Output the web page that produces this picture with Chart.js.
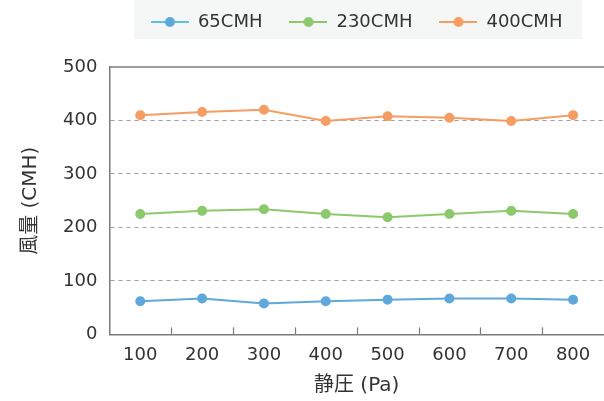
<!DOCTYPE html>
<html>
<head>
<meta charset="utf-8">
<script src="https://cdn.jsdelivr.net/npm/chart.js@4/dist/chart.umd.min.js"></script>
<style>
  html, body { margin: 0; padding: 0; background: #ffffff; }
  #wrap { width: 604px; height: 401px; position: relative; }
</style>
</head>
<body>
<div id="wrap"><canvas id="c" width="604" height="401"></canvas></div>
<script>
// Static pressure steps (Pa)
const pressures = ['100', '200', '300', '400', '500', '600', '700', '800'];
// Measured airflow (CMH) at each pressure step, per fan setting
const flow65 = [62, 67, 58, 62, 65, 67, 67, 65];
const flow230 = [225, 231, 234, 225, 219, 225, 231, 225];
const flow400 = [410, 416, 420, 399, 408, 405, 399, 410];
const seriesNames = ['65CMH', '230CMH', '400CMH'];
const yTicks = [0, 100, 200, 300, 400, 500];

const FONT = "'DejaVu Sans', 'Noto Sans CJK JP', sans-serif";
const TEXT = '#333333';
const AXIS = '#7a7a7a';

const palette = [
  { line: '#5fa8dc', point: '#5fa8dc', legendLine: '#5cc3d9' },
  { line: '#8cc96c', point: '#8cc96c', legendLine: '#8cc96c' },
  { line: '#f59d62', point: '#f59d62', legendLine: '#f59d62' }
];

// Legend marker: short line with a dot in the middle
function legendMarker(lineColor, dotColor) {
  const cv = document.createElement('canvas');
  cv.width = 38; cv.height = 12;
  const g = cv.getContext('2d');
  g.strokeStyle = lineColor; g.lineWidth = 2;
  g.beginPath(); g.moveTo(0, 6); g.lineTo(38, 6); g.stroke();
  g.fillStyle = dotColor;
  g.beginPath(); g.arc(19, 6, 5, 0, Math.PI * 2); g.fill();
  return cv;
}

const datasets = [flow65, flow230, flow400].map((vals, i) => ({
  label: seriesNames[i],
  data: vals,
  borderColor: palette[i].line,
  backgroundColor: palette[i].point,
  pointBackgroundColor: palette[i].point,
  pointBorderColor: palette[i].point,
  pointRadius: 4,
  pointHoverRadius: 4,
  borderWidth: 2,
  tension: 0,
  fill: false
}));

const frame = {
  id: 'frame',
  beforeInit(chart) {
    const fit = chart.legend.fit;
    chart.legend.fit = function () { fit.call(this); this.height += 26; };
  },
  beforeDraw(chart) {
    const lg = chart.legend;
    if (!lg || !lg.legendHitBoxes || !lg.legendHitBoxes.length) return;
    const boxes = lg.legendHitBoxes;
    const first = boxes[0], last = boxes[boxes.length - 1];
    const ctx = chart.ctx;
    ctx.save();
    ctx.fillStyle = '#f5f6f6';
    ctx.fillRect(first.left - 17, 0, (last.left + last.width) - first.left + 37, 39);
    ctx.restore();
  },
  afterDraw(chart) {
    const { ctx, chartArea } = chart;
    const xs = chart.scales.x;
    ctx.save();
    ctx.strokeStyle = AXIS;
    ctx.lineWidth = 1.5;
    // top frame line
    ctx.beginPath();
    ctx.moveTo(chartArea.left, chartArea.top);
    ctx.lineTo(chartArea.right, chartArea.top);
    ctx.stroke();
    // inward tick marks between categories
    ctx.lineWidth = 1.2;
    for (let i = 1; i < pressures.length; i++) {
      const x = Math.round((xs.getPixelForValue(i - 1) + xs.getPixelForValue(i)) / 2) + 0.5;
      ctx.beginPath();
      ctx.moveTo(x, chartArea.bottom);
      ctx.lineTo(x, chartArea.bottom - 7);
      ctx.stroke();
    }
    ctx.restore();
  }
};

new Chart(document.getElementById('c'), {
  type: 'line',
  data: { labels: pressures, datasets },
  options: {
    responsive: false,
    animation: false,
    layout: { autoPadding: false, padding: { left: 19, right: 0, top: -14, bottom: 3 } },
    plugins: {
      tooltip: { enabled: false },
      legend: {
        position: 'top',
        fullSize: false,
        labels: {
          usePointStyle: true,
          pointStyleWidth: 38,
          padding: 27,
          color: TEXT,
          font: { family: FONT, size: 18 },
          generateLabels(chart) {
            return chart.data.datasets.map((ds, i) => ({
              text: ds.label,
              pointStyle: legendMarker(palette[i].legendLine, palette[i].point),
              fillStyle: palette[i].point,
              strokeStyle: 'transparent',
              lineWidth: 0,
              fontColor: TEXT,
              hidden: false,
              datasetIndex: i
            }));
          }
        }
      }
    },
    scales: {
      x: {
        offset: true,
        afterFit(scale) { scale.paddingRight = 0; },
        grid: { display: false, drawTicks: false },
        border: { display: true, color: AXIS, width: 1.5 },
        ticks: { color: TEXT, font: { family: FONT, size: 18 }, padding: 10 },
        title: { display: true, text: '静圧 (Pa)', color: TEXT, font: { family: FONT, size: 20 }, padding: { top: -2, bottom: 0 } }
      },
      y: {
        min: 0,
        max: 500,
        afterBuildTicks(scale) { scale.ticks = yTicks.map(v => ({ value: v })); },
        grid: {
          drawTicks: false,
          lineWidth: 1,
          color: ctx => (ctx.tick && (ctx.tick.value === 0 || ctx.tick.value === 500)) ? 'rgba(0,0,0,0)' : '#9a9a9a'
        },
        border: { display: true, color: AXIS, width: 1.5, dash: [4, 4] },
        ticks: { color: TEXT, font: { family: FONT, size: 18 }, padding: 12 },
        title: { display: true, text: '風量 (CMH)', color: TEXT, font: { family: FONT, size: 20 }, padding: { top: 0, bottom: 8 } }
      }
    }
  },
  plugins: [frame]
});
</script>
</body>
</html>
